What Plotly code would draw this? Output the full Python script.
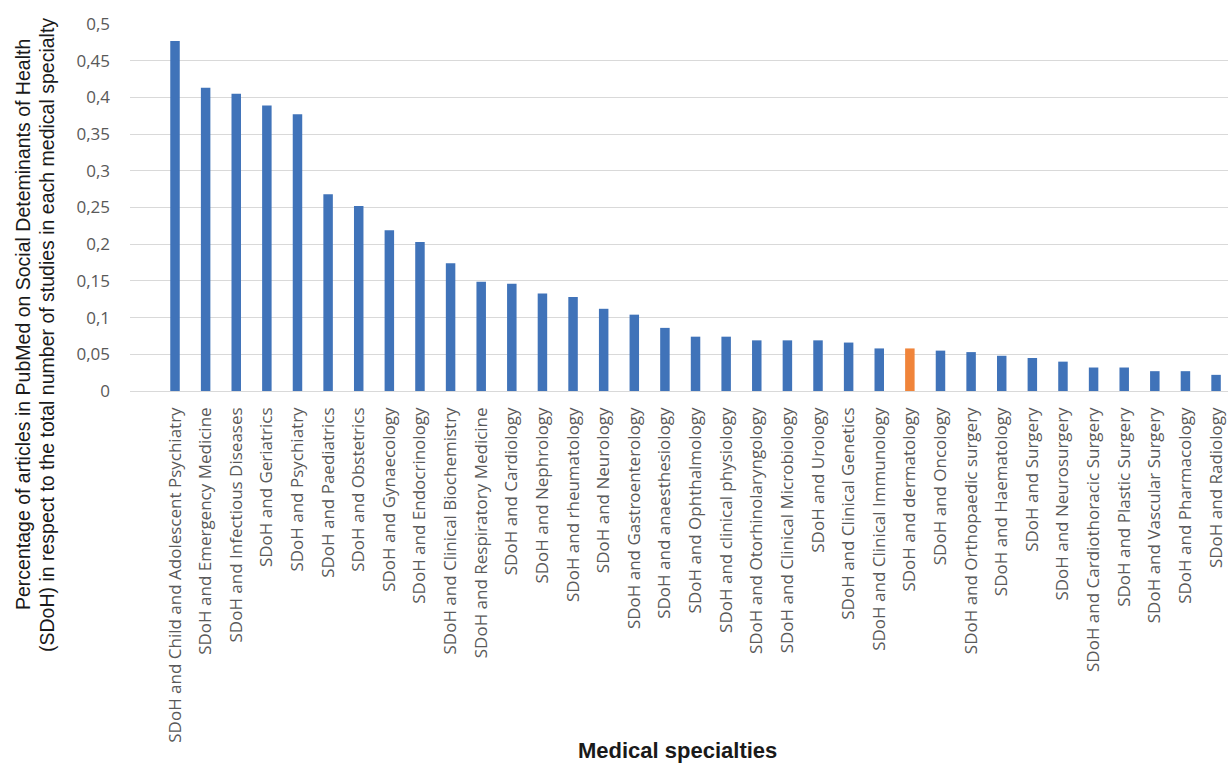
import plotly.graph_objects as go

specialties = [
    "SDoH and Child and Adolescent Psychiatry",
    "SDoH and Emergency Medicine",
    "SDoH and Infectious Diseases",
    "SDoH and Geriatrics",
    "SDoH and Psychiatry",
    "SDoH and Paediatrics",
    "SDoH and Obstetrics",
    "SDoH and Gynaecology",
    "SDoH and Endocrinology",
    "SDoH and Clinical Biochemistry",
    "SDoH and Respiratory Medicine",
    "SDoH and Cardiology",
    "SDoH and Nephrology",
    "SDoH and rheumatology",
    "SDoH and Neurology",
    "SDoH and Gastroenterology",
    "SDoH and anaesthesiology",
    "SDoH and Ophthalmology",
    "SDoH and clinical physiology",
    "SDoH and Otorhinolaryngology",
    "SDoH and Clinical Microbiology",
    "SDoH and Urology",
    "SDoH and Clinical Genetics",
    "SDoH and Clinical Immunology",
    "SDoH and dermatology",
    "SDoH and Oncology",
    "SDoH and Orthopaedic surgery",
    "SDoH and Haematology",
    "SDoH and Surgery",
    "SDoH and Neurosurgery",
    "SDoH and Cardiothoracic Surgery",
    "SDoH and Plastic Surgery",
    "SDoH and Vascular Surgery",
    "SDoH and Pharmacology",
    "SDoH and Radiology",
]

values = [
    0.477, 0.413, 0.405, 0.389, 0.377, 0.268, 0.252, 0.219, 0.203, 0.174,
    0.149, 0.146, 0.133, 0.128, 0.112, 0.104, 0.086, 0.074, 0.074, 0.069,
    0.069, 0.069, 0.066, 0.058, 0.058, 0.055, 0.053, 0.048, 0.045, 0.040,
    0.032, 0.032, 0.027, 0.027, 0.022,
]

highlight = "SDoH and dermatology"

y_ticks = [0, 0.05, 0.1, 0.15, 0.2, 0.25, 0.3, 0.35, 0.4, 0.45, 0.5]

y_title_lines = [
    "Percentage of articles in PubMed on Social Deteminants of Health",
    "(SDoH) in respect to the total number of studies in each medical specialty",
]
x_title = "Medical specialties"

BLUE = "#4073B9"
ORANGE = "#F0843A"
colors = [ORANGE if s == highlight else BLUE for s in specialties]

idx = list(range(len(specialties)))

fig = go.Figure(
    go.Bar(
        x=idx,
        y=values,
        marker=dict(color=colors, line=dict(width=0)),
        width=0.31,
        hoverinfo="skip",
    )
)

W, H = 1228, 763
L, R, T, B = 130, 0, 24, 372
PW, PH = W - L - R, H - T - B

fig.update_layout(
    width=W,
    height=H,
    margin=dict(l=L, r=R, t=T, b=B),
    paper_bgcolor="white",
    plot_bgcolor="white",
    separators=", ",
    showlegend=False,
    font=dict(family="Open Sans", color="#595959"),
)

fig.update_xaxes(
    range=[-1.47, 34.39],
    tickmode="array",
    tickvals=idx,
    ticktext=specialties,
    tickangle=-90,
    tickfont=dict(family="Open Sans", size=17, color="#595959"),
    showgrid=False,
    showline=False,
    zeroline=False,
    ticks="",
    ticklabelstandoff=12,
)

fig.update_yaxes(
    range=[0, 0.5],
    tickmode="array",
    tickvals=y_ticks,
    tickfont=dict(family="Open Sans", size=17, color="#595959"),
    showgrid=True,
    gridcolor="#D9D9D9",
    gridwidth=1.2,
    zeroline=True,
    zerolinecolor="#D9D9D9",
    zerolinewidth=1.2,
    showline=False,
    ticks="",
    ticklabelstandoff=19,
)


def px_x(px):
    return (px - L) / PW


def px_y(py):
    return (H - B - py) / PH


for line, cx, cy in zip(y_title_lines, [23, 47], [325, 335]):
    fig.add_annotation(
        text=line,
        xref="paper", yref="paper",
        x=px_x(cx), y=px_y(cy),
        xanchor="center", yanchor="middle",
        textangle=-90,
        showarrow=False,
        font=dict(family="Liberation Sans", size=19.5, color="#1a1a1a"),
    )

fig.add_annotation(
    text="<b>" + x_title + "</b>",
    xref="paper", yref="paper",
    x=px_x(677), y=px_y(750),
    xanchor="center", yanchor="middle",
    showarrow=False,
    font=dict(family="Liberation Sans", size=22, color="#1a1a1a"),
)

fig.write_html(
    "out.html",
    config={"displayModeBar": False},
    post_script="document.body.style.margin='0';document.body.style.overflow='hidden';",
)
